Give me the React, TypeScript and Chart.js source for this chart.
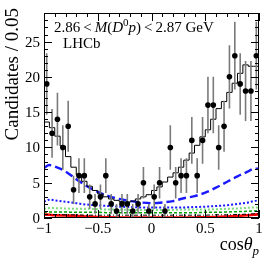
import React, { useEffect, useRef } from "react";
import { Chart, registerables } from "chart.js";
Chart.register(...registerables);

// ---------- data ----------
const binLow = -1;
const binWidth = 0.05;
const counts = [19, 12, 14, 10, 13, 4, 6, 6, 3, 2, 3, 6, 2, 1, 2, 2, 1, 2, 5, 1, 3, 5, 1, 10, 5, 6, 6, 11, 6, 11, 16, 16, 10, 13, 20, 23, 19, 18, 18, 23];
const errors = [4.36, 3.46, 3.74, 3.16, 3.61, 2, 2.45, 2.45, 1.73, 1.41, 1.73, 2.45, 1.41, 1, 1.41, 1.41, 1, 1.41, 2.24, 1, 1.73, 2.24, 1, 3.16, 2.24, 2.45, 2.45, 3.32, 2.45, 3.32, 4, 4, 3.16, 3.61, 4.47, 4.8, 4.36, 4.24, 4.24, 4.8];
const fitTotal = [14, 13.6, 12.8, 11.6, 10.2, 8.7, 7.2, 6.1, 5.2, 4.5, 3.9, 3.4, 3.0, 2.7, 2.5, 2.3, 2.2, 2.4, 2.7, 3.0, 3.3, 3.9, 4.4, 5.1, 5.8, 6.4, 7.2, 8.2, 9.2, 10.3, 11.5, 12.5, 14, 15.5, 16.5, 17.8, 19.1, 20.5, 21.7, 21.5];

const curveX = [-1, -0.95, -0.9, -0.8, -0.7, -0.6, -0.5, -0.4, -0.3, -0.2, -0.1, 0, 0.1, 0.2, 0.3, 0.4, 0.5, 0.6, 0.7, 0.8, 0.9, 0.95, 1];
const blueDashed = [7.1, 7.5, 7.3, 6.6, 5.5, 4.5, 3.7, 3.1, 2.7, 2.4, 2.2, 2.1, 2.2, 2.4, 2.8, 3.1, 3.6, 4.3, 5.1, 5.9, 6.6, 7.0, 7.0];
const blueDotted = [2.3, 2.6, 2.5, 2.3, 2.1, 1.9, 1.8, 1.7, 1.6, 1.55, 1.5, 1.5, 1.5, 1.5, 1.5, 1.55, 1.6, 1.7, 1.8, 2.0, 2.2, 2.4, 2.5];
const greenDotted = [1.3, 1.4, 1.4, 1.35, 1.3, 1.3, 1.25, 1.2, 1.2, 1.15, 1.15, 1.15, 1.15, 1.15, 1.2, 1.2, 1.2, 1.25, 1.3, 1.35, 1.45, 1.5, 1.5];
const greenDashed = [0.8, 0.85, 0.85, 0.85, 0.8, 0.8, 0.8, 0.75, 0.75, 0.75, 0.75, 0.75, 0.75, 0.75, 0.75, 0.75, 0.8, 0.8, 0.85, 0.9, 0.95, 1.0, 1.05];
const blackDashDot = [0.5, 0.5, 0.5, 0.45, 0.45, 0.4, 0.4, 0.4, 0.4, 0.4, 0.4, 0.4, 0.4, 0.4, 0.4, 0.4, 0.4, 0.45, 0.45, 0.5, 0.55, 0.6, 0.6];
const redSolid = [0.5, 0.45, 0.4, 0.35, 0.3, 0.22, 0.15, 0.1, 0.07, 0.05, 0.05, 0.05, 0.05, 0.05, 0.06, 0.08, 0.1, 0.15, 0.2, 0.28, 0.38, 0.45, 0.55];

const yTickValues = [0, 5, 10, 15, 20, 25];
const yTickLabels = ["0", "5", "10", "15", "20", "25"];
const xTickValues = [-1, -0.5, 0, 0.5, 1];
const xTickLabels = ["\u22121", "\u22120.5", "0", "0.5", "1"];
const yMax = 29.05;

// ---------- helpers ----------
const FONT = '"Liberation Serif", "DejaVu Serif", serif';

type Part = { t: string; italic?: boolean; sup?: boolean; sub?: boolean };

function drawRich(ctx: CanvasRenderingContext2D, parts: Part[], x: number, y: number, size: number, align: "left" | "right") {
  const fontFor = (p: Part) => `${p.italic ? "italic " : ""}${p.sup || p.sub ? Math.round(size * 0.7) : size}px ${FONT}`;
  let total = 0;
  for (const p of parts) {
    ctx.font = fontFor(p);
    total += ctx.measureText(p.t).width;
  }
  let cx = align === "right" ? x - total : x;
  ctx.textAlign = "left";
  ctx.textBaseline = "alphabetic";
  for (const p of parts) {
    ctx.font = fontFor(p);
    const dy = p.sup ? -size * 0.38 : p.sub ? size * 0.28 : 0;
    ctx.fillText(p.t, cx, y + dy);
    cx += ctx.measureText(p.t).width;
  }
}

const framePlugin = {
  id: "frameTicks",
  afterDraw(chart: any) {
    const { ctx, chartArea: a, scales } = chart;
    const xs = scales.x;
    const ys = scales.y;
    ctx.save();
    ctx.strokeStyle = "#000";
    ctx.fillStyle = "#000";
    ctx.lineWidth = 1;
    ctx.strokeRect(a.left + 0.5, a.top + 0.5, a.right - a.left - 1, a.bottom - a.top - 1);
    ctx.beginPath();
    for (let i = 0; i <= 29; i++) {
      const py = Math.round(ys.getPixelForValue(i)) + 0.5;
      const len = i % 5 === 0 ? 8 : 4;
      ctx.moveTo(a.left, py);
      ctx.lineTo(a.left + len, py);
      ctx.moveTo(a.right, py);
      ctx.lineTo(a.right - len, py);
    }
    for (let i = 0; i <= 20; i++) {
      const v = -1 + i * 0.1;
      const px = Math.round(xs.getPixelForValue(v)) + 0.5;
      const len = i % 5 === 0 ? 8 : 4;
      ctx.moveTo(px, a.bottom);
      ctx.lineTo(px, a.bottom - len);
      ctx.moveTo(px, a.top);
      ctx.lineTo(px, a.top + len);
    }
    ctx.stroke();

    // tick labels
    ctx.font = `15px ${FONT}`;
    ctx.textAlign = "right";
    ctx.textBaseline = "middle";
    yTickLabels.forEach((lab, i) => {
      ctx.fillText(lab, a.left - 4, ys.getPixelForValue(yTickValues[i]) + 1);
    });
    ctx.textAlign = "center";
    ctx.textBaseline = "top";
    xTickLabels.forEach((lab, i) => {
      ctx.fillText(lab, xs.getPixelForValue(xTickValues[i]), a.bottom + 4);
    });

    // y title
    ctx.save();
    ctx.translate(13, 8);
    ctx.rotate(-Math.PI / 2);
    ctx.font = `19px ${FONT}`;
    ctx.textAlign = "right";
    ctx.textBaseline = "middle";
    ctx.fillText("Candidates / 0.05", 0, 0);
    ctx.restore();

    // x title
    drawRich(ctx, [{ t: "cos" }, { t: "θ", italic: true }, { t: "p", italic: true, sub: true }], a.right, 250, 18, "right");

    // labels
    drawRich(
      ctx,
      [
        { t: "2.86\u2009<\u2009" },
        { t: "M", italic: true },
        { t: "(" },
        { t: "D", italic: true },
        { t: "0", sup: true },
        { t: "p", italic: true },
        { t: ")\u2009<\u20092.87 GeV" },
      ],
      a.left + 10,
      32,
      15,
      "left"
    );
    ctx.font = `15px ${FONT}`;
    ctx.textAlign = "left";
    ctx.textBaseline = "alphabetic";
    ctx.fillText("LHCb", a.left + 19, 48);
    ctx.restore();
  },
};

const errorBarPlugin = {
  id: "errBars",
  beforeDatasetDraw(chart: any, args: any) {
    if (args.index !== 0) return;
    const { ctx, scales, chartArea: a } = chart;
    ctx.save();
    ctx.beginPath();
    ctx.rect(a.left, a.top, a.right - a.left, a.bottom - a.top);
    ctx.clip();
    ctx.strokeStyle = "#7a7a7a";
    ctx.lineWidth = 1.6;
    ctx.beginPath();
    counts.forEach((c, k) => {
      const cx = binLow + binWidth * (k + 0.5);
      const px = scales.x.getPixelForValue(cx);
      ctx.moveTo(px, scales.y.getPixelForValue(c - errors[k]));
      ctx.lineTo(px, scales.y.getPixelForValue(c + errors[k]));
    });
    ctx.stroke();
    ctx.restore();
  },
};

function curve(values: number[], color: string, width: number, dash: number[]) {
  return {
    type: "line" as const,
    data: curveX.map((x, i) => ({ x, y: values[i] })),
    borderColor: color,
    borderWidth: width,
    borderDash: dash,
    pointRadius: 0,
    fill: false,
    cubicInterpolationMode: "monotone" as const,
  };
}

export default function App() {
  const ref = useRef<HTMLCanvasElement>(null);
  useEffect(() => {
    if (!ref.current) return;
    const points = counts.map((c, k) => ({ x: binLow + binWidth * (k + 0.5), y: c }));
    const histo = fitTotal.map((v, k) => ({ x: binLow + binWidth * k, y: v }));
    histo.push({ x: binLow + binWidth * fitTotal.length, y: fitTotal[fitTotal.length - 1] });
    const chart = new Chart(ref.current, {
      type: "scatter",
      data: {
        datasets: [
          {
            type: "scatter",
            data: points,
            pointRadius: 2.8,
            pointBackgroundColor: "#000",
            pointBorderColor: "#000",
            pointBorderWidth: 0,
          } as any,
          {
            type: "line",
            data: histo,
            borderColor: "#000",
            borderWidth: 1,
            stepped: "after",
            pointRadius: 0,
            fill: false,
          } as any,
          curve(blueDashed, "#1a1aff", 2.4, [8, 4]),
          curve(blueDotted, "#1a1aff", 2, [2, 2]),
          curve(greenDotted, "#7ddc7d", 2, [2, 2]),
          curve(greenDashed, "#00a000", 1.5, [3, 2]),
          curve(blackDashDot, "#000", 1, [4, 2, 1, 2]),
          curve(redSolid, "#ff0000", 2.6, []),
        ],
      },
      options: {
        animation: false,
        responsive: false,
        layout: { padding: { left: 44, right: 15, top: 13, bottom: 42 } },
        plugins: { legend: { display: false }, tooltip: { enabled: false } },
        scales: {
          x: { type: "linear", min: -1, max: 1, display: false },
          y: { type: "linear", min: 0, max: yMax, display: false },
        },
      },
      plugins: [errorBarPlugin, framePlugin],
    });
    return () => chart.destroy();
  }, []);
  return (
    <div style={{ position: "absolute", left: 0, top: 0, width: 274, height: 260, background: "#fff" }}>
      <canvas ref={ref} width={274} height={260} style={{ display: "block" }} />
    </div>
  );
}
